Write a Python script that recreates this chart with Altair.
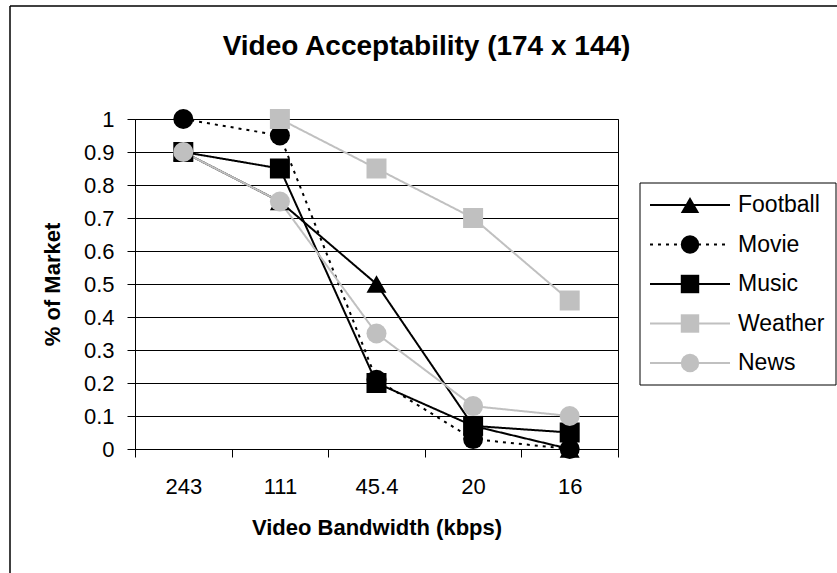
import altair as alt
import pandas as pd

categories = ["243", "111", "45.4", "20", "16"]
series_names = ["Football", "Movie", "Music", "Weather", "News"]
football = [0.90, 0.75, 0.50, 0.07, 0.00]
movie = [1.00, 0.95, 0.21, 0.03, 0.00]
music = [0.90, 0.85, 0.20, 0.07, 0.05]
weather = [None, 1.00, 0.85, 0.70, 0.45]
news = [0.90, 0.75, 0.35, 0.13, 0.10]
y_ticks = [0, 0.1, 0.2, 0.3, 0.4, 0.5, 0.6, 0.7, 0.8, 0.9, 1]

colors = ["#000000", "#000000", "#000000", "#C0C0C0", "#C0C0C0"]
shapes = ["triangle-up", "circle", "square", "square", "circle"]
dashes = [[1, 0], [3, 5], [1, 0], [1, 0], [1, 0]]

FONT = "Liberation Sans"

rows = []
for k, (name, vals) in enumerate(zip(series_names, [football, movie, music, weather, news])):
    for cat, v in zip(categories, vals):
        if v is not None:
            rows.append({"series": name, "bandwidth": cat, "value": v, "k": k})
df = pd.DataFrame(rows)
leg_df = pd.DataFrame({"series": series_names})
one = pd.DataFrame({"a": [0]})

color_enc = alt.Color("series:N", scale=alt.Scale(domain=series_names, range=colors), legend=None)
shape_enc = alt.Shape("series:N", scale=alt.Scale(domain=series_names, range=shapes), legend=None)
dash_enc = alt.StrokeDash("series:N", scale=alt.Scale(domain=series_names, range=dashes), legend=None)

x_enc = alt.X(
    "bandwidth:N", sort=categories, bandPosition=0.5,
    scale=alt.Scale(type="band", paddingInner=0, paddingOuter=0),
    axis=alt.Axis(title="Video Bandwidth (kbps)", labelAngle=0, tickBand="extent", grid=False,
                  tickSize=8, labelPadding=19, titlePadding=20, labelFontSize=22,
                  titleFontSize=22, titleFontWeight="bold"),
)
y_enc = alt.Y(
    "value:Q", scale=alt.Scale(domain=[0, 1], nice=False),
    axis=alt.Axis(title="% of Market", values=y_ticks, format="~g", tickSize=8, labelPadding=13,
                  labelOverlap=False, titlePadding=19, labelFontSize=22, titleFontSize=22,
                  titleFontWeight="bold", grid=True),
)

base = alt.Chart(df)
lines = base.mark_line(strokeWidth=2).encode(x=x_enc, y=y_enc, color=color_enc, strokeDash=dash_enc,
                                            detail="series:N")
points = base.mark_point(filled=True, size=400, opacity=1).encode(
    x=x_enc, y=y_enc, color=color_enc, shape=shape_enc, order="k:Q")

frame_left = alt.Chart(one).mark_rule(color="black", strokeWidth=1.5).encode(
    x=alt.value(-125), y=alt.value(-113), y2=alt.value(470))
frame_top = alt.Chart(one).mark_rule(color="black", strokeWidth=1.5).encode(
    x=alt.value(-125), x2=alt.value(720), y=alt.value(-113))

main = alt.layer(lines, points)

leg_y = alt.Y("series:N", scale=alt.Scale(type="point", domain=series_names, range=[86, 244], padding=0),
              axis=None)
leg_box = alt.Chart(one).mark_rect(fill="white", stroke="black", strokeWidth=1).encode(
    x=alt.value(505), x2=alt.value(701), y=alt.value(64), y2=alt.value(266))
leg_rules = alt.Chart(leg_df).mark_rule(strokeWidth=2).encode(
    x=alt.value(515), x2=alt.value(595), y=leg_y, color=color_enc, strokeDash=dash_enc)
leg_pts = alt.Chart(leg_df).mark_point(filled=True, size=340, opacity=1).encode(
    x=alt.value(555), y=leg_y, color=color_enc, shape=shape_enc)
leg_txt = alt.Chart(leg_df).mark_text(align="left", baseline="middle", fontSize=23, font=FONT,
                                      color="black").encode(
    x=alt.value(603), y=leg_y, text="series:N")
legend = alt.layer(leg_box, leg_rules, leg_pts, leg_txt)

chart = alt.layer(frame_left, frame_top, main, legend).resolve_scale(y="independent").properties(
    width=483, height=330,
    autosize=alt.AutoSizeParams(type="none"),
    padding={"left": 135, "top": 119, "right": 219, "bottom": 124},
    title=alt.TitleParams("Video Acceptability (174 x 144)", font=FONT, fontSize=28, fontWeight="bold",
                          color="black", anchor="middle", frame="group", baseline="bottom",
                          offset=0, dx=50, dy=84),
).configure(font=FONT, background="white").configure_view(
    stroke="black", strokeWidth=1
).configure_axis(
    domainColor="black", tickColor="black", gridColor="black", gridWidth=1, labelColor="black",
    titleColor="black", labelFont=FONT, titleFont=FONT, domainWidth=1, tickWidth=1,
)

chart.save("out.html", embed_options={"renderer": "svg", "actions": False})
